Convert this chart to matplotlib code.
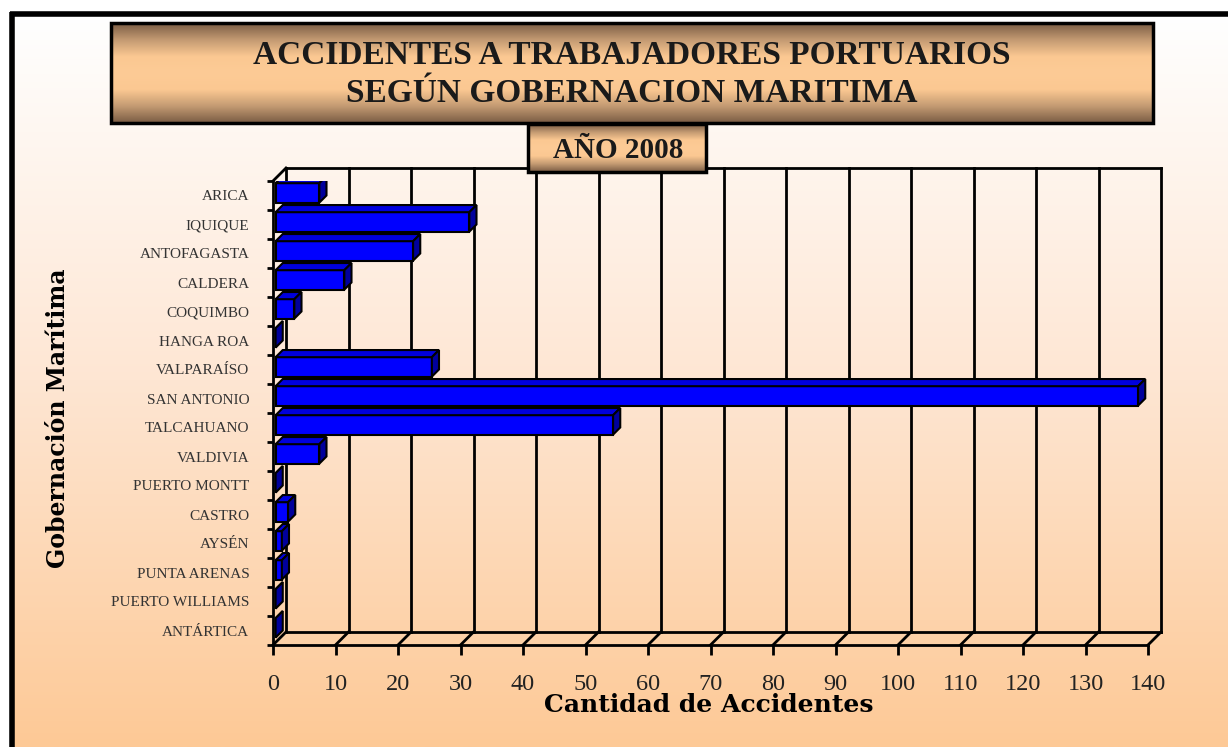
import numpy as np
import matplotlib
matplotlib.use("Agg")
import matplotlib.pyplot as plt
from matplotlib.patches import Polygon, Rectangle
from matplotlib.colors import LinearSegmentedColormap

# data
categories = ["ARICA", "IQUIQUE", "ANTOFAGASTA", "CALDERA", "COQUIMBO", "HANGA ROA",
              "VALPARAÍSO", "SAN ANTONIO", "TALCAHUANO", "VALDIVIA", "PUERTO MONTT",
              "CASTRO", "AYSÉN", "PUNTA ARENAS", "PUERTO WILLIAMS", "ANTÁRTICA"]
accidents = [7, 31, 22, 11, 3, 0, 25, 138, 54, 7, 0, 2, 1, 1, 0, 0]
x_ticks = list(range(0, 141, 10))

title_lines = ["ACCIDENTES A TRABAJADORES PORTUARIOS", "SEGÚN GOBERNACION MARITIMA"]
subtitle = "AÑO 2008"
x_label = "Cantidad de Accidentes"
y_label = "Gobernación Marítima"

W, H = 1228, 747
fig = plt.figure(figsize=(W / 100, H / 100), dpi=100)

# background: white outside the frame, peach gradient inside
bg = fig.add_axes([0, 0, 1, 1], zorder=0)
peach = LinearSegmentedColormap.from_list("peach", ["#ffffff", "#fee6d3", "#fdc996"])
bg.imshow(np.linspace(0, 1, 256).reshape(-1, 1), cmap=peach,
          extent=[12, W, H, 14], aspect="auto")
bg.plot([10, W], [14, 14], color="black", lw=4, solid_capstyle="butt")
bg.plot([12, 12], [12, H], color="black", lw=4, solid_capstyle="butt")
bg.set_xlim(0, W)
bg.set_ylim(H, 0)
bg.axis("off")

# chart axes = front plane of the pseudo 3D plot
xmax = x_ticks[-1]
n = len(categories)
ax = fig.add_axes([273 / W, 1 - 645 / H, 875 / W, 464 / H], zorder=1)
ax.set_facecolor("none")
ax.set_xlim(0, xmax)
ax.set_ylim(n, 0)

DX = 13 / 875 * xmax   # depth shift in data units
DY = 13 / 464 * n
grid_kw = dict(color="black", lw=2, clip_on=False, solid_capstyle="projecting")

# back wall and floor
for t in x_ticks:
    ax.plot([t + DX, t + DX], [-DY, n - DY], **grid_kw)
    ax.plot([t, t + DX], [n, n - DY], **grid_kw)
ax.plot([DX, xmax + DX], [-DY, -DY], **grid_kw)
ax.plot([DX, xmax + DX], [n - DY, n - DY], **grid_kw)
ax.plot([0, DX], [0, -DY], **grid_kw)

# bars
bar_h = 0.67
d0, bd = 0.2, 0.55
for i, v in enumerate(accidents):
    c = i + 0.5 - d0 * DY
    x0 = d0 * DX
    yt, yb = c - bar_h / 2, c + bar_h / 2
    ax.barh(c, v, left=x0, height=bar_h, color="#0000ff", edgecolor="black",
            lw=1.5, zorder=3)
    top = [(x0, yt), (x0 + v, yt), (x0 + v + bd * DX, yt - bd * DY), (x0 + bd * DX, yt - bd * DY)]
    side = [(x0 + v, yt), (x0 + v, yb), (x0 + v + bd * DX, yb - bd * DY), (x0 + v + bd * DX, yt - bd * DY)]
    ax.add_patch(Polygon(top, closed=True, fc="#0000dd", ec="black", lw=1.5, zorder=3))
    ax.add_patch(Polygon(side, closed=True, fc="#00009c", ec="black", lw=1.5, zorder=3))

for s in ["top", "right"]:
    ax.spines[s].set_visible(False)
for s in ["left", "bottom"]:
    ax.spines[s].set_linewidth(2)

ax.set_xticks(x_ticks)
ax.set_xticklabels([str(t) for t in x_ticks], fontfamily="Liberation Serif",
                   fontsize=17.5, color="#222222")
ax.tick_params(axis="x", length=7, width=2, pad=14)
ax.set_yticks(np.arange(n) + 0.5)
ax.set_yticklabels(categories, fontfamily="Liberation Serif", fontsize=11, color="#333333")
ax.set_yticks(np.arange(n + 1), minor=True)
ax.tick_params(axis="y", which="major", length=0, pad=17)
ax.tick_params(axis="y", which="minor", length=4, width=2)

ax.set_xlabel(x_label, fontfamily="DejaVu Serif", fontweight="bold", fontsize=18, va="center")
ax.xaxis.set_label_coords((709 - 273) / 875, -(705 - 645) / 464)
ax.set_ylabel(y_label, fontfamily="DejaVu Serif", fontweight="bold", fontsize=17, va="center")
ax.yaxis.set_label_coords((58 - 273) / 875, 1 - (418 - 181) / 464)

# title boxes on top
ov = fig.add_axes([0, 0, 1, 1], zorder=3)
brown = LinearSegmentedColormap.from_list(
    "brown", ["#7a5c44", "#c39a72", "#fbc892", "#fdcb96", "#fbc892", "#c39a72", "#7a5c44"])
for (l, r, t, b) in [(111, 1153, 23, 123), (528, 706, 124, 172)]:
    ov.imshow(np.linspace(0, 1, 256).reshape(-1, 1), cmap=brown,
              extent=[l, r, b, t], aspect="auto", zorder=1)
    ov.add_patch(Rectangle((l, t), r - l, b - t, fill=False, ec="black", lw=2.5, zorder=2))
ov.set_xlim(0, W)
ov.set_ylim(H, 0)
ov.axis("off")

tkw = dict(fontfamily="Liberation Serif", fontweight="bold", color="#1a1a1a",
           ha="center", va="center", zorder=3)
ov.text(632, 55, title_lines[0], fontsize=24, **tkw)
ov.text(632, 93, title_lines[1], fontsize=24, **tkw)
ov.text(618, 150, subtitle, fontsize=21, **tkw)

fig.savefig("out.png", dpi=100)
